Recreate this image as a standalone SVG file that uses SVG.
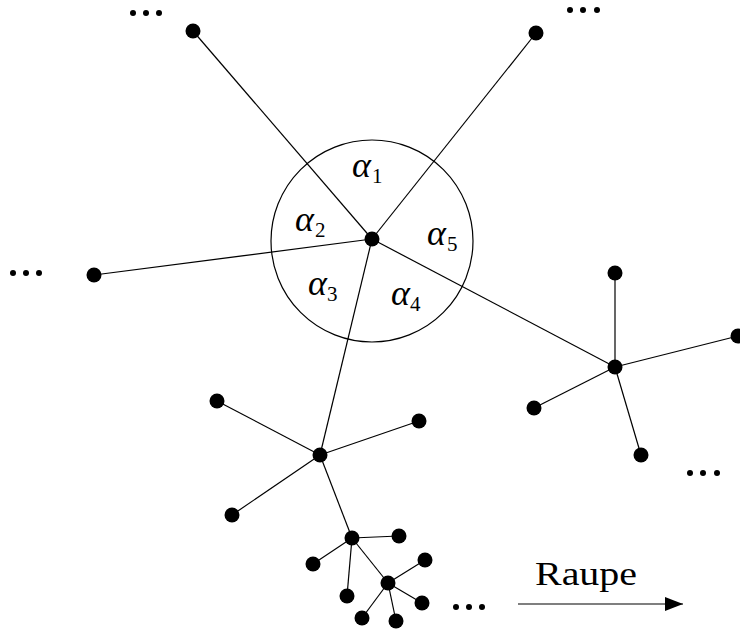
<svg xmlns="http://www.w3.org/2000/svg" width="740" height="631" viewBox="0 0 740 631">
<style>
.e{stroke:#000;stroke-width:1.2;fill:none}
.n{fill:#000}
.d{fill:#000}
.t{font-family:"Liberation Serif",serif;fill:#000}
.a{font-family:"Liberation Serif",serif;font-style:italic;font-size:36px;fill:#000}
.s{font-family:"Liberation Serif",serif;font-size:21px;fill:#000}
</style>
<defs>
<marker id="ah" markerWidth="20" markerHeight="14" refX="18" refY="7" orient="auto" markerUnits="userSpaceOnUse">
<path d="M0,0 L18,7 L0,14 Z" fill="#000"/>
</marker>
</defs>
<rect width="740" height="631" fill="#fff"/>
<g id="connectors">
<circle class="e" cx="372" cy="241" r="101"/>
<line class="e" x1="372" y1="239" x2="193" y2="31"/>
<line class="e" x1="372" y1="239" x2="536" y2="33"/>
<line class="e" x1="372" y1="239" x2="94" y2="275"/>
<line class="e" x1="372" y1="239" x2="615" y2="367"/>
<line class="e" x1="372" y1="239" x2="320" y2="455"/>
<line class="e" x1="615" y1="367" x2="615" y2="273"/>
<line class="e" x1="615" y1="367" x2="738" y2="336"/>
<line class="e" x1="615" y1="367" x2="534" y2="408"/>
<line class="e" x1="615" y1="367" x2="641" y2="455"/>
<line class="e" x1="320" y1="455" x2="217" y2="401"/>
<line class="e" x1="320" y1="455" x2="419" y2="421"/>
<line class="e" x1="320" y1="455" x2="232" y2="515"/>
<line class="e" x1="320" y1="455" x2="352" y2="538"/>
<line class="e" x1="352" y1="538" x2="399" y2="536"/>
<line class="e" x1="352" y1="538" x2="313" y2="564"/>
<line class="e" x1="352" y1="538" x2="347" y2="596"/>
<line class="e" x1="352" y1="538" x2="388" y2="583"/>
<line class="e" x1="388" y1="583" x2="425" y2="560"/>
<line class="e" x1="388" y1="583" x2="422" y2="603"/>
<line class="e" x1="388" y1="583" x2="362" y2="618"/>
<line class="e" x1="388" y1="583" x2="396" y2="621"/>
<line class="e" x1="518" y1="604" x2="683" y2="604" marker-end="url(#ah)"/>
</g>
<g id="center"><circle class="n" cx="372" cy="239" r="7.5"/></g>
<g id="n-topleft"><circle class="n" cx="193" cy="31" r="7.5"/></g>
<g id="n-topright"><circle class="n" cx="536" cy="33" r="7.5"/></g>
<g id="n-left"><circle class="n" cx="94" cy="275" r="7.5"/></g>
<g id="hub-right"><circle class="n" cx="615" cy="367" r="7.5"/></g>
<g id="r1"><circle class="n" cx="615" cy="273" r="7.5"/></g>
<g id="r2"><circle class="n" cx="738" cy="336" r="7.5"/></g>
<g id="r3"><circle class="n" cx="534" cy="408" r="7.5"/></g>
<g id="r4"><circle class="n" cx="641" cy="455" r="7.5"/></g>
<g id="hub-left"><circle class="n" cx="320" cy="455" r="7.5"/></g>
<g id="l1"><circle class="n" cx="217" cy="401" r="7.5"/></g>
<g id="l2"><circle class="n" cx="419" cy="421" r="7.5"/></g>
<g id="l3"><circle class="n" cx="232" cy="515" r="7.5"/></g>
<g id="hubA"><circle class="n" cx="352" cy="538" r="7.5"/></g>
<g id="a1"><circle class="n" cx="399" cy="536" r="7.5"/></g>
<g id="a2"><circle class="n" cx="313" cy="564" r="7.5"/></g>
<g id="a3"><circle class="n" cx="347" cy="596" r="7.5"/></g>
<g id="hubB"><circle class="n" cx="388" cy="583" r="7.5"/></g>
<g id="b1"><circle class="n" cx="425" cy="560" r="7.5"/></g>
<g id="b2"><circle class="n" cx="422" cy="603" r="7.5"/></g>
<g id="b3"><circle class="n" cx="362" cy="618" r="7.5"/></g>
<g id="b4"><circle class="n" cx="396" cy="621" r="7.5"/></g>
<g id="dots">
<circle class="d" cx="133" cy="13" r="3"/><circle class="d" cx="146" cy="13" r="3"/><circle class="d" cx="159" cy="13" r="3"/>
<circle class="d" cx="570" cy="10" r="3"/><circle class="d" cx="583" cy="10" r="3"/><circle class="d" cx="597" cy="10" r="3"/>
<circle class="d" cx="13" cy="273" r="3"/><circle class="d" cx="26" cy="273" r="3"/><circle class="d" cx="39" cy="273" r="3"/>
<circle class="d" cx="690" cy="473" r="3"/><circle class="d" cx="703" cy="473" r="3"/><circle class="d" cx="717" cy="473" r="3"/>
<circle class="d" cx="456" cy="607" r="3"/><circle class="d" cx="469" cy="607" r="3"/><circle class="d" cx="482" cy="607" r="3"/>
</g>
<g id="labels">
<text class="a" x="352" y="177">α</text><text class="s" x="372" y="183">1</text>
<text class="a" x="295" y="231">α</text><text class="s" x="315" y="237">2</text>
<text class="a" x="308" y="295">α</text><text class="s" x="327" y="301">3</text>
<text class="a" x="391" y="305">α</text><text class="s" x="410" y="311">4</text>
<text class="a" x="427" y="245">α</text><text class="s" x="447" y="251">5</text>
<text class="t" x="535" y="585" font-size="33" textLength="102" lengthAdjust="spacingAndGlyphs">Raupe</text>
</g>
</svg>
